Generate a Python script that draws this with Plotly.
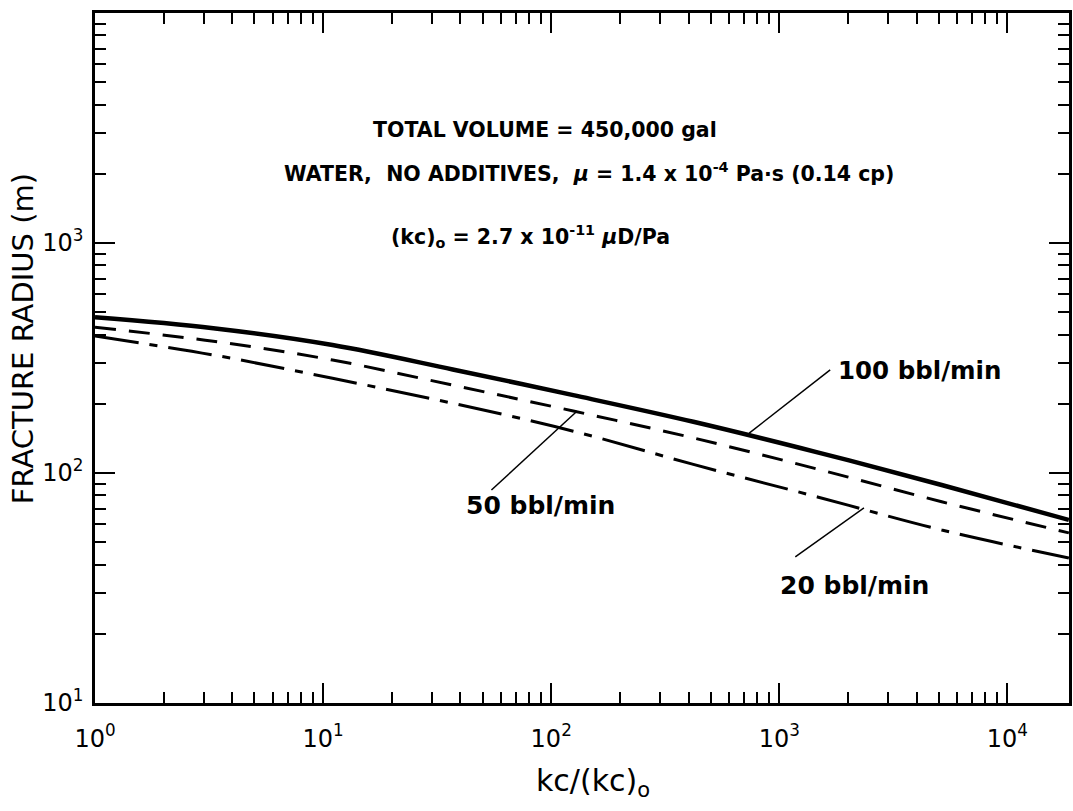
import plotly.graph_objects as go

# kc/(kc)o ratio along the x axis
kc_ratio = [1, 3.3, 11, 37, 125, 420, 1470, 5150, 18600]

# fracture radius (m) for each injection rate
radius_100 = [475, 426, 360, 282, 218, 167, 123, 88.7, 62.5]
radius_50 = [430, 374, 310, 241, 186, 142, 104, 75, 54.9]
radius_20 = [394, 326, 258, 201, 152, 109, 78.7, 56.5, 42.7]

x_tickvals = [1, 10, 100, 1000, 10000]
x_ticktext = ["10<sup>0</sup>", "10<sup>1</sup>", "10<sup>2</sup>", "10<sup>3</sup>", "10<sup>4</sup>"]
y_tickvals = [10, 100, 1000]
y_ticktext = ["10<sup>1</sup>", "10<sup>2</sup>", "10<sup>3</sup>"]

# minor tick positions: 2..9 within each decade
minor_vals = [m * 10 ** d for d in range(0, 5) for m in range(2, 10)]

FONT = "DejaVu Sans"
INK = "black"

fig = go.Figure()
fig.add_trace(go.Scatter(x=kc_ratio, y=radius_100, mode="lines", line_shape="spline",
                         line=dict(color=INK, width=4.5), showlegend=False))
fig.add_trace(go.Scatter(x=kc_ratio, y=radius_50, mode="lines", line_shape="spline",
                         line=dict(color=INK, width=3, dash="21px,13px"), showlegend=False))
fig.add_trace(go.Scatter(x=kc_ratio, y=radius_20, mode="lines", line_shape="spline",
                         line=dict(color=INK, width=3, dash="44px,11px,8px,11px"), showlegend=False))

# leader lines from the rate labels to their curves
leaders = [
    ((1671, 281), (738, 149)),
    ((54.7, 84.3), (130, 186)),
    ((1175, 43.2), (2350, 70.5)),
]
for (xa, ya), (xb, yb) in leaders:
    fig.add_shape(type="line", xref="x", yref="y", x0=xa, y0=ya, x1=xb, y1=yb,
                  line=dict(color=INK, width=1.5))

def px_x(px):
    return (px - 95) / 977

def px_y(py):
    return (703 - py) / 690

# text blocks: (text, x pixel, y pixel, size, anchor)
notes = [
    ("TOTAL VOLUME = 450,000 gal", 546, 130, 20.5, "center"),
    ("WATER,  NO ADDITIVES,  <i>μ</i> = 1.4 x 10<sup>-4</sup> Pa·s (0.14 cp)", 591, 172, 20.5, "center"),
    ("(kc)<sub>o</sub> = 2.7 x 10<sup>-11</sup> <i>μ</i>D/Pa", 532, 237, 20.5, "center"),
    ("100 bbl/min", 838, 370, 24.5, "left"),
    ("50 bbl/min", 465, 505, 25, "left"),
    ("20 bbl/min", 780, 585, 25, "left"),
]
for text, lx, cy, size, anchor in notes:
    fig.add_annotation(text=text, xref="paper", yref="paper", x=px_x(lx), y=px_y(cy),
                       xanchor=anchor, yanchor="middle", showarrow=False,
                       font=dict(family=FONT, size=size, color=INK, weight="bold"))

# axis titles
fig.add_annotation(text="FRACTURE RADIUS (m)", xref="paper", yref="paper",
                   x=px_x(23), y=px_y(339), textangle=-90, showarrow=False,
                   xanchor="center", yanchor="middle",
                   font=dict(family=FONT, size=29, color=INK))
fig.add_annotation(text="kc/(kc)<sub>o</sub>", xref="paper", yref="paper",
                   x=px_x(595), y=px_y(782), showarrow=False,
                   xanchor="center", yanchor="middle",
                   font=dict(family=FONT, size=30, color=INK))

axis_common = dict(
    type="log", showgrid=False, zeroline=False, showline=True, linecolor=INK, linewidth=2.5,
    mirror="ticks", ticks="inside", ticklen=20, tickwidth=2, tickcolor=INK,
    tickfont=dict(family=FONT, size=24, color=INK),
    minor=dict(tickvals=minor_vals, ticks="inside", ticklen=11, tickwidth=1.5,
               tickcolor=INK, showgrid=False),
)

fig.update_xaxes(range=[0, 4.27], tickvals=x_tickvals, ticktext=x_ticktext,
                 ticklabelstandoff=12, **axis_common)
fig.update_yaxes(range=[1, 4], tickvals=y_tickvals, ticktext=y_ticktext,
                 ticklabelstandoff=4, **axis_common)

fig.update_layout(
    width=1073, height=811,
    margin=dict(l=95, r=1, t=13, b=108),
    paper_bgcolor="white", plot_bgcolor="white",
    font=dict(family=FONT, color=INK),
)

fig.write_html("out.html")
